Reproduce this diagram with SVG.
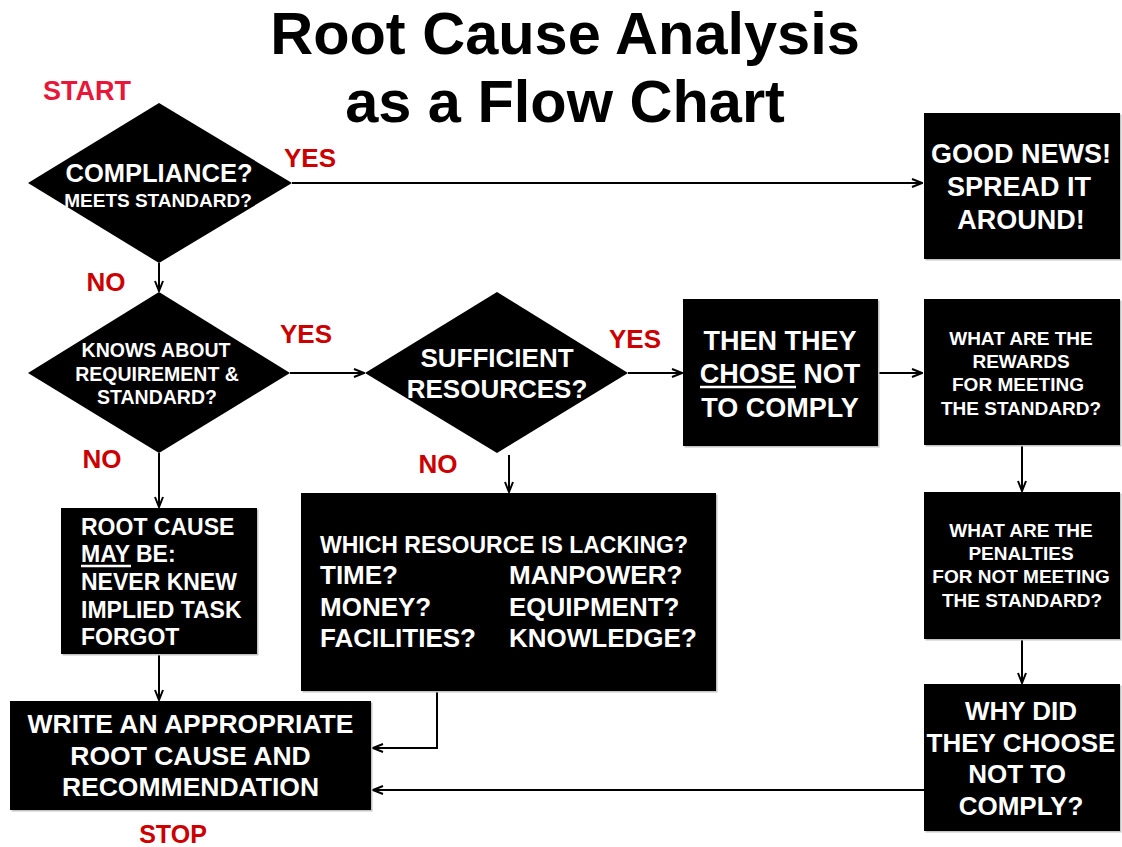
<svg xmlns="http://www.w3.org/2000/svg" width="1122" height="847" viewBox="0 0 1122 847">
<defs>
<style>
text{font-family:"Liberation Sans",Arial,sans-serif;font-weight:bold}
.t{fill:#000;font-size:59.5px;text-anchor:middle}
.w{fill:#fff;text-anchor:middle}
.wl{fill:#fff}
.lab{fill:#cc0000;font-size:26px;text-anchor:middle}
.start{fill:#e8173a;font-size:27px;text-anchor:middle}
.node{fill:#000}
.sh{fill:#c4c4c4}
.c{stroke:#000;stroke-width:2;fill:none}
.ul{stroke:#fff;stroke-width:2.5}
</style>
<marker id="arr" viewBox="0 0 12 10" refX="11" refY="5" markerWidth="12" markerHeight="10" markerUnits="userSpaceOnUse" orient="auto">
<path d="M1,1 L11,5 L1,9" fill="none" stroke="#000" stroke-width="2"/>
</marker>
</defs>
<rect width="1122" height="847" fill="#fff"/>
<g id="title">
<text class="t" x="565" y="54">Root Cause Analysis</text>
<text class="t" x="565" y="122">as a Flow Chart</text>
</g>
<g id="labels">
<text class="start" x="87" y="100">START</text>
<text class="lab" x="310" y="167">YES</text>
<text class="lab" x="106" y="291">NO</text>
<text class="lab" x="306" y="343">YES</text>
<text class="lab" x="102" y="468">NO</text>
<text class="lab" x="635" y="348">YES</text>
<text class="lab" x="438" y="473">NO</text>
<text class="lab" x="173" y="843" style="font-size:25px">STOP</text>
</g>
<g id="connectors">
<path class="c" d="M292,183 H922" marker-end="url(#arr)"/>
<path class="c" d="M159,263 V291" marker-end="url(#arr)"/>
<path class="c" d="M290,373 H364" marker-end="url(#arr)"/>
<path class="c" d="M159,453 V507" marker-end="url(#arr)"/>
<path class="c" d="M628,373 H682" marker-end="url(#arr)"/>
<path class="c" d="M509,455 V492" marker-end="url(#arr)"/>
<path class="c" d="M878,373 H922" marker-end="url(#arr)"/>
<path class="c" d="M1022,445 V491" marker-end="url(#arr)"/>
<path class="c" d="M1022,639 V683" marker-end="url(#arr)"/>
<path class="c" d="M159,654 V700" marker-end="url(#arr)"/>
<path class="c" d="M437,691 V748 H373" marker-end="url(#arr)"/>
<path class="c" d="M924,790 H373" marker-end="url(#arr)"/>
</g>
<g id="compliance">
<polygon class="node" points="159,103 292,183 159,263 28,183"/>
<text class="w" x="159" y="182" style="font-size:25.5px">COMPLIANCE?</text>
<text class="w" x="158" y="207" style="font-size:19px">MEETS STANDARD?</text>
</g>
<g id="knows">
<polygon class="node" points="159,292 290,373 159,453 28,373"/>
<text class="w" x="156" y="357" style="font-size:19.5px">KNOWS ABOUT</text>
<text class="w" x="157" y="381" style="font-size:19.5px">REQUIREMENT &amp;</text>
<text class="w" x="157" y="404" style="font-size:19.5px">STANDARD?</text>
</g>
<g id="resources-q">
<polygon class="node" points="497,292 628,373 497,453 365,373"/>
<text class="w" x="497" y="367" style="font-size:26px">SUFFICIENT</text>
<text class="w" x="497" y="398" style="font-size:26px">RESOURCES?</text>
</g>
<g id="good-news">
<rect class="sh" x="925.5" y="114.5" width="196" height="146"/>
<rect class="node" x="924" y="113" width="196" height="146"/>
<text class="w" x="1021" y="163" style="font-size:27px">GOOD NEWS!</text>
<text class="w" x="1019" y="196" style="font-size:27px">SPREAD IT</text>
<text class="w" x="1021" y="229" style="font-size:27px">AROUND!</text>
</g>
<g id="chose">
<rect class="sh" x="684.5" y="300.5" width="195" height="147"/>
<rect class="node" x="683" y="299" width="195" height="147"/>
<text class="w" x="780" y="350" style="font-size:27px">THEN THEY</text>
<text class="w" x="780" y="383" style="font-size:27px">CHOSE NOT</text>
<line class="ul" x1="700" y1="387" x2="796" y2="387"/>
<text class="w" x="780" y="417" style="font-size:27px">TO COMPLY</text>
</g>
<g id="rewards">
<rect class="sh" x="925.5" y="300.5" width="196" height="146"/>
<rect class="node" x="924" y="299" width="196" height="146"/>
<text class="w" x="1021" y="345" style="font-size:19px">WHAT ARE THE</text>
<text class="w" x="1021" y="368" style="font-size:19px">REWARDS</text>
<text class="w" x="1018" y="391" style="font-size:19px">FOR MEETING</text>
<text class="w" x="1021" y="415" style="font-size:19px">THE STANDARD?</text>
</g>
<g id="penalties">
<rect class="sh" x="925.5" y="493.5" width="196" height="147"/>
<rect class="node" x="924" y="492" width="196" height="147"/>
<text class="w" x="1021" y="537" style="font-size:19px">WHAT ARE THE</text>
<text class="w" x="1021" y="560" style="font-size:19px">PENALTIES</text>
<text class="w" x="1021" y="583" style="font-size:19px">FOR NOT MEETING</text>
<text class="w" x="1022" y="607" style="font-size:19px">THE STANDARD?</text>
</g>
<g id="why">
<rect class="sh" x="925.5" y="685.5" width="196" height="147"/>
<rect class="node" x="924" y="684" width="196" height="147"/>
<text class="w" x="1021" y="720" style="font-size:26px">WHY DID</text>
<text class="w" x="1021" y="752" style="font-size:26px">THEY CHOOSE</text>
<text class="w" x="1017" y="783" style="font-size:26px">NOT TO</text>
<text class="w" x="1021" y="815" style="font-size:26px">COMPLY?</text>
</g>
<g id="root-cause">
<rect class="sh" x="62.5" y="509.5" width="196" height="146"/>
<rect class="node" x="61" y="508" width="196" height="146"/>
<text class="wl" x="81" y="535" style="font-size:23px">ROOT CAUSE</text>
<text class="wl" x="81" y="562" style="font-size:23px">MAY BE:</text>
<line class="ul" x1="81" y1="566" x2="131" y2="566"/>
<text class="wl" x="81" y="590" style="font-size:23px">NEVER KNEW</text>
<text class="wl" x="81" y="618" style="font-size:23px">IMPLIED TASK</text>
<text class="wl" x="81" y="645" style="font-size:23px">FORGOT</text>
</g>
<g id="which-resource">
<rect class="sh" x="302.5" y="494.5" width="415" height="198"/>
<rect class="node" x="301" y="493" width="415" height="198"/>
<text class="wl" x="320" y="553" style="font-size:23px">WHICH RESOURCE IS LACKING?</text>
<text class="wl" x="320" y="584" style="font-size:26px">TIME?</text>
<text class="wl" x="509" y="584" style="font-size:26px">MANPOWER?</text>
<text class="wl" x="320" y="616" style="font-size:26px">MONEY?</text>
<text class="wl" x="509" y="616" style="font-size:26px">EQUIPMENT?</text>
<text class="wl" x="320" y="647" style="font-size:26px">FACILITIES?</text>
<text class="wl" x="509" y="647" style="font-size:26px">KNOWLEDGE?</text>
</g>
<g id="write">
<rect class="sh" x="11.5" y="702.5" width="361" height="109"/>
<rect class="node" x="10" y="701" width="361" height="109"/>
<text class="w" x="190.5" y="733" style="font-size:26.5px">WRITE AN APPROPRIATE</text>
<text class="w" x="190.5" y="765" style="font-size:26.5px">ROOT CAUSE AND</text>
<text class="w" x="190.5" y="796" style="font-size:26.5px">RECOMMENDATION</text>
</g>
</svg>
